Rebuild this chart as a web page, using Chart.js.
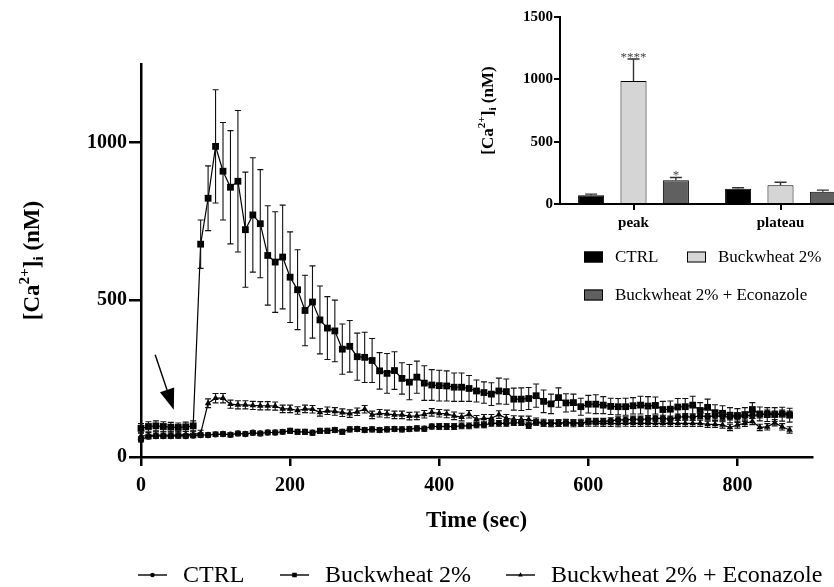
<!DOCTYPE html>
<html>
<head>
<meta charset="utf-8">
<script src="https://cdn.jsdelivr.net/npm/chart.js@4.4.1/dist/chart.umd.min.js"></script>
<style>
  html, body { margin: 0; padding: 0; background: #fff; overflow: hidden; }
  #wrap { position: relative; width: 834px; height: 587px; overflow: hidden; }
  #main { position: absolute; left: 0; top: 0; }
  #inset { position: absolute; left: 460px; top: 0; }
</style>
</head>
<body>
<div id="wrap">
  <canvas id="main" width="834" height="587"></canvas>
  <canvas id="inset" width="394" height="320"></canvas>
</div>
<script>
// time course, one point every 10 s
const timeSec = [0,10,20,30,40,50,60,70,80,90,100,110,120,130,140,150,160,170,180,190,200,210,220,230,240,250,260,270,280,290,300,310,320,330,340,350,360,370,380,390,400,410,420,430,440,450,460,470,480,490,500,510,520,530,540,550,560,570,580,590,600,610,620,630,640,650,660,670,680,690,700,710,720,730,740,750,760,770,780,790,800,810,820,830,840,850,860,870];

const ctrlMean = [56,65,67,67,67,68,67,68,
  70,70,72,73,71,75,73,77,75,78,78,80,
  83,80,80,77,83,83,86,80,88,89,
  86,88,86,88,89,88,89,91,90,97,
  97,97,97,99,99,102,102,107,107,107,
  109,109,100,110,107,107,107,109,109,107,
  113,113,113,115,118,118,120,120,120,123,
  123,120,127,128,127,131,128,131,128,128,
  128,131,133,134,139,136,139,136];
const ctrlSem = [8,7,7,7,7,7,7,7,
  7,7,7,7,7,7,7,7,7,7,7,7,
  8,8,8,8,8,8,8,8,8,8,
  8,8,8,8,8,8,8,8,8,8,
  9,9,9,9,9,9,9,9,9,9,
  9,9,9,9,9,9,9,9,9,9,
  10,10,10,10,10,10,10,10,10,10,
  10,10,10,10,10,10,10,10,10,10,
  10,10,10,10,10,10,10,10];

const buckMean = [91,97,99,97,95,94,96,99,
  677,823,988,909,858,877,723,770,742,641,620,636,
  572,532,466,493,436,410,401,343,352,319,
  317,307,274,266,275,250,238,254,235,229,
  227,226,222,222,218,210,205,200,210,208,
  184,184,186,195,177,169,189,172,173,160,
  168,168,165,161,160,160,163,165,162,164,
  151,152,159,160,165,148,158,141,139,133,
  132,135,151,137,135,135,136,133];
const buckSem = [15,15,16,15,15,14,15,16,
  77,103,180,155,180,225,183,182,172,158,160,165,
  144,127,112,115,108,100,98,80,82,75,
  80,70,58,63,60,50,56,51,55,49,
  49,48,45,45,41,35,34,36,41,40,
  35,36,35,37,36,31,31,29,27,27,
  28,30,27,26,26,27,26,28,30,27,
  26,26,27,26,28,25,26,25,24,24,
  22,22,22,22,22,22,22,22];

const econMean = [67,68,70,70,70,70,72,72,
  75,171,187,187,168,166,166,164,163,163,162,153,
  153,148,153,152,142,147,145,141,138,144,
  152,134,139,137,134,134,130,131,136,142,
  139,137,131,127,136,120,123,123,135,123,
  120,119,119,113,109,107,108,109,107,109,
  108,108,107,107,106,108,107,107,107,107,
  108,107,107,107,107,107,104,104,102,94,
  102,107,113,94,96,109,96,86];
const econSem = [10,10,10,10,10,10,10,10,
  10,14,15,15,13,13,13,13,13,13,13,12,
  12,12,12,12,12,12,12,12,12,12,
  12,12,12,12,12,12,12,12,12,12,
  12,12,12,12,12,12,12,12,12,12,
  11,11,11,11,11,11,11,11,11,11,
  10,10,10,10,10,10,10,10,10,10,
  10,10,10,10,10,10,10,10,10,10,
  10,10,10,10,10,10,10,10];

const seriesLabels = ['CTRL', 'Buckwheat 2%', 'Buckwheat 2% + Econazole'];
const xTickValues = [0, 200, 400, 600, 800];
const yTickValues = [0, 500, 1000];

// inset: peak / plateau summary
const insetCategories = ['peak', 'plateau'];
const insetCtrl = [70, 123];
const insetCtrlErr = [9, 7];
const insetBuck = [987, 150];
const insetBuckErr = [176, 24];
const insetEcon = [190, 99];
const insetEconErr = [23, 12];
const insetStars = [['', ''], ['****', ''], ['*', '']];
const insetTickValues = [0, 500, 1000, 1500];

const FONT = '"Liberation Serif", "Times New Roman", serif';
Chart.defaults.font.family = FONT;
Chart.defaults.color = '#000';
const plainNumber = v => String(v);

// vertical error bars read from dataset.errors
const errorBarPlugin = {
  id: 'errorBars',
  afterDatasetsDraw(chart, args, opts) {
    const ctx = chart.ctx;
    const yScale = chart.scales.y;
    chart.data.datasets.forEach((ds, di) => {
      if (!ds.errors) return;
      const meta = chart.getDatasetMeta(di);
      ctx.save();
      ctx.strokeStyle = opts.color;
      ctx.lineWidth = opts.width;
      meta.data.forEach((el, i) => {
        const raw = ds.data[i];
        const v = typeof raw === 'object' ? raw.y : raw;
        const e = ds.errors[i];
        const top = yScale.getPixelForValue(v + e);
        const bot = opts.upperOnly ? yScale.getPixelForValue(v) : yScale.getPixelForValue(v - e);
        const x = el.x, c = opts.cap;
        ctx.beginPath();
        ctx.moveTo(x, top); ctx.lineTo(x, bot);
        ctx.moveTo(x - c, top); ctx.lineTo(x + c, top);
        if (!opts.upperOnly) { ctx.moveTo(x - c, bot); ctx.lineTo(x + c, bot); }
        ctx.stroke();
        if (ds.stars && ds.stars[i]) {
          ctx.fillStyle = '#444';
          ctx.font = '13px ' + FONT;
          ctx.textAlign = 'center';
          ctx.textBaseline = 'alphabetic';
          ctx.fillText(ds.stars[i], x, top + 2);
        }
      });
      ctx.restore();
    });
  }
};

// [Ca2+]i (nM) axis title with super/subscript
function drawCaTitle(ctx, cx, cy, size) {
  const parts = [['[Ca', 1, 0], ['2+', 0.66, -0.42], [']', 1, 0], ['i', 0.66, 0.2], [' (nM)', 1, 0]];
  ctx.save();
  ctx.translate(cx, cy);
  ctx.rotate(-Math.PI / 2);
  ctx.fillStyle = '#000';
  ctx.textBaseline = 'alphabetic';
  ctx.textAlign = 'left';
  let total = 0;
  parts.forEach(p => { ctx.font = 'bold ' + (size * p[1]) + 'px ' + FONT; total += ctx.measureText(p[0]).width; });
  let x = -total / 2;
  const base = size * 0.33;
  parts.forEach(p => {
    ctx.font = 'bold ' + (size * p[1]) + 'px ' + FONT;
    ctx.fillText(p[0], x, base + p[2] * size);
    x += ctx.measureText(p[0]).width;
  });
  ctx.restore();
}
const caTitlePlugin = {
  id: 'caTitle',
  afterDraw(chart, args, o) {
    const a = chart.chartArea;
    drawCaTitle(chart.ctx, o.x, (a.top + a.bottom) / 2, o.size);
  }
};

const arrowPlugin = {
  id: 'arrow',
  afterDraw(chart, args, o) {
    const ctx = chart.ctx, xs = chart.scales.x, ys = chart.scales.y;
    const x1 = xs.getPixelForValue(o.from[0]), y1 = ys.getPixelForValue(o.from[1]);
    const x2 = xs.getPixelForValue(o.to[0]), y2 = ys.getPixelForValue(o.to[1]);
    const ang = Math.atan2(y2 - y1, x2 - x1);
    const bx = x2 - o.head * Math.cos(ang), by = y2 - o.head * Math.sin(ang);
    const hw = o.headWidth / 2;
    ctx.save();
    ctx.strokeStyle = '#000'; ctx.fillStyle = '#000'; ctx.lineWidth = 1.4;
    ctx.beginPath(); ctx.moveTo(x1, y1); ctx.lineTo(bx, by); ctx.stroke();
    ctx.beginPath();
    ctx.moveTo(x2, y2);
    ctx.lineTo(bx + hw * Math.sin(ang), by - hw * Math.cos(ang));
    ctx.lineTo(bx - hw * Math.sin(ang), by + hw * Math.cos(ang));
    ctx.closePath(); ctx.fill();
    ctx.restore();
  }
};

// legend of the time course: line + marker + label
const lineLegendPlugin = {
  id: 'lineLegend',
  afterDraw(chart, args, o) {
    const ctx = chart.ctx;
    chart.data.datasets.forEach((ds, i) => {
      const x0 = o.x[i], y0 = o.y;
      ctx.save();
      ctx.strokeStyle = '#000'; ctx.fillStyle = '#000'; ctx.lineWidth = 1.4;
      ctx.beginPath(); ctx.moveTo(x0, y0); ctx.lineTo(x0 + o.lineLength, y0); ctx.stroke();
      Chart.helpers.drawPoint(ctx, { pointStyle: ds.pointStyle, radius: o.markerRadius[i], borderWidth: 0, rotation: 0 }, x0 + o.lineLength / 2, y0);
      ctx.font = o.fontSize + 'px ' + FONT;
      ctx.textAlign = 'left'; ctx.textBaseline = 'middle';
      ctx.fillText(ds.label, x0 + o.textOffset, y0 + 1);
      ctx.restore();
    });
  }
};

// legend of the inset: swatch + label
const boxLegendPlugin = {
  id: 'boxLegend',
  afterDraw(chart, args, o) {
    const ctx = chart.ctx;
    chart.data.datasets.forEach((ds, i) => {
      const [x0, y0] = o.pos[i];
      ctx.save();
      ctx.fillStyle = ds.backgroundColor;
      ctx.fillRect(x0, y0 - o.boxH / 2, o.boxW, o.boxH);
      ctx.strokeStyle = '#000'; ctx.lineWidth = 1;
      ctx.strokeRect(x0 + 0.5, y0 - o.boxH / 2 + 0.5, o.boxW - 1, o.boxH - 1);
      ctx.fillStyle = '#000';
      ctx.font = o.fontSize + 'px ' + FONT;
      ctx.textAlign = 'left'; ctx.textBaseline = 'middle';
      ctx.fillText(ds.label, x0 + o.textOffset, y0 + 1);
      ctx.restore();
    });
  }
};

function lineSet(label, mean, sem, style, radius) {
  return {
    label: label,
    data: timeSec.map((t, i) => ({ x: t, y: mean[i] })),
    errors: sem,
    borderColor: '#000',
    backgroundColor: '#000',
    borderWidth: 1.2,
    pointStyle: style,
    pointRadius: radius,
    pointBorderWidth: 0,
    pointBackgroundColor: '#000',
    tension: 0,
    clip: false
  };
}

new Chart(document.getElementById('main'), {
  type: 'line',
  data: {
    datasets: [
      lineSet(seriesLabels[0], ctrlMean, ctrlSem, 'circle', 3.2),
      lineSet(seriesLabels[1], buckMean, buckSem, 'rect', 4.8),
      lineSet(seriesLabels[2], econMean, econSem, 'triangle', 3.8)
    ]
  },
  options: {
    responsive: false,
    animation: false,
    layout: { padding: { left: 0, right: 22, top: 64, bottom: 52 } },
    plugins: {
      legend: { display: false },
      tooltip: { enabled: false },
      errorBars: { color: '#111', width: 1.1, cap: 3, upperOnly: false },
      caTitle: { x: 31, size: 23 },
      arrow: { from: [19, 325], to: [44, 150], head: 21, headWidth: 15 },
      lineLegend: { x: [138, 280, 506], y: 575, lineLength: 29, textOffset: 45, fontSize: 24, markerRadius: [2.3, 3.2, 2.8] }
    },
    scales: {
      x: {
        type: 'linear', min: 0, max: 900,
        afterBuildTicks: s => { s.ticks = xTickValues.map(v => ({ value: v })); },
        afterFit: s => { s.height = 78; },
        ticks: { font: { size: 20, weight: 'bold' }, color: '#000', padding: 8, maxRotation: 0, callback: plainNumber },
        grid: { drawOnChartArea: false, drawTicks: true, tickLength: 9, color: '#000', lineWidth: 2.5 },
        border: { color: '#000', width: 2.5 },
        title: { display: true, text: 'Time (sec)', font: { size: 23, weight: 'bold' }, color: '#000', padding: { top: 0, bottom: 0 } }
      },
      y: {
        min: 0, max: 1250,
        afterBuildTicks: s => { s.ticks = yTickValues.map(v => ({ value: v })); },
        afterFit: s => { s.width = 141; },
        ticks: { font: { size: 20, weight: 'bold' }, color: '#000', padding: 2, callback: plainNumber },
        grid: { drawOnChartArea: false, drawTicks: true, tickLength: 12, color: '#000', lineWidth: 2.5 },
        border: { color: '#000', width: 2.5 }
      }
    }
  },
  plugins: [errorBarPlugin, caTitlePlugin, arrowPlugin, lineLegendPlugin]
});

function barSet(label, values, errors, stars, color) {
  return {
    label: label, data: values, errors: errors, stars: stars,
    backgroundColor: color, borderColor: '#000', borderWidth: 1,
    categoryPercentage: 0.865, barPercentage: 0.615
  };
}

new Chart(document.getElementById('inset'), {
  type: 'bar',
  data: {
    labels: insetCategories,
    datasets: [
      barSet(seriesLabels[0], insetCtrl, insetCtrlErr, insetStars[0], '#000000'),
      barSet(seriesLabels[1], insetBuck, insetBuckErr, insetStars[1], '#d5d5d5'),
      barSet(seriesLabels[2], insetEcon, insetEconErr, insetStars[2], '#606060')
    ]
  },
  options: {
    responsive: false,
    animation: false,
    layout: { padding: { left: 0, right: 0, top: 17, bottom: 86 } },
    plugins: {
      legend: { display: false },
      tooltip: { enabled: false },
      errorBars: { color: '#333', width: 1.4, cap: 6, upperOnly: true },
      caTitle: { x: 27, size: 17 },
      boxLegend: { pos: [[124, 257], [227, 257], [124, 295]], boxW: 19, boxH: 11, textOffset: 31, fontSize: 17 }
    },
    scales: {
      x: {
        afterFit: s => { s.height = 30; },
        ticks: { font: { size: 15, weight: 'bold' }, color: '#000', padding: 4 },
        grid: { offset: false, drawOnChartArea: false, drawTicks: true, tickLength: 6, color: '#000', lineWidth: 2 },
        border: { color: '#000', width: 2 }
      },
      y: {
        min: 0, max: 1500,
        afterBuildTicks: s => { s.ticks = insetTickValues.map(v => ({ value: v })); },
        afterFit: s => { s.width = 100; },
        ticks: { font: { size: 15, weight: 'bold' }, color: '#000', padding: 1, callback: plainNumber },
        grid: { drawOnChartArea: false, drawTicks: true, tickLength: 6, color: '#000', lineWidth: 2 },
        border: { color: '#000', width: 2 }
      }
    }
  },
  plugins: [errorBarPlugin, caTitlePlugin, boxLegendPlugin]
});
</script>
</body>
</html>
